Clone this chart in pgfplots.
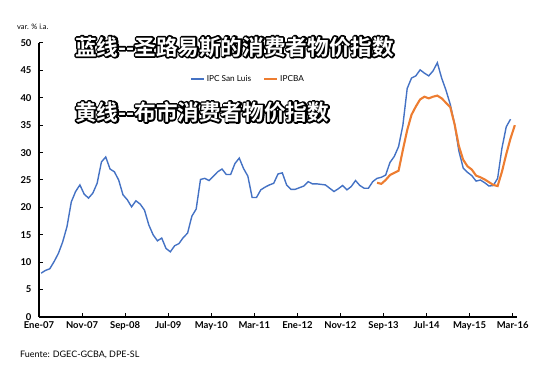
\documentclass[border=0pt]{standalone}
\usepackage{fontspec}
\setmainfont{Lato}
\newfontfamily\cjk{Noto Sans CJK SC}[BoldFont={Noto Sans CJK SC Bold}]
\usepackage{pgfplots}
\pgfplotsset{compat=1.18}
\usepackage{pgfplotstable}
\definecolor{ipcblue}{RGB}{68,114,196}
\definecolor{ipcorange}{RGB}{237,125,49}
\newcommand\strokeonly[1]{\special{pdf:literal direct 1 Tr 3.4 w 0 0 0 RG 1 j 1 J}#1\special{pdf:literal direct 0 Tr}}

\pgfplotstableread{
m v
0 8.0
1 8.5
2 8.8
3 10.1
4 11.6
5 13.7
6 16.5
7 21.0
8 22.9
9 24.1
10 22.4
11 21.7
12 22.6
13 24.4
14 28.3
15 29.2
16 27.0
17 26.5
18 25.0
19 22.3
20 21.4
21 20.1
22 21.2
23 20.6
24 19.5
25 16.8
26 15.0
27 13.9
28 14.4
29 12.5
30 11.9
31 13.0
32 13.4
33 14.5
34 15.3
35 18.4
36 19.7
37 25.1
38 25.3
39 24.9
40 25.7
41 26.5
42 27.0
43 26.0
44 26.0
45 28.0
46 29.0
47 27.1
48 25.7
49 21.8
50 21.8
51 23.2
52 23.7
53 24.1
54 24.4
55 26.1
56 26.3
57 24.1
58 23.3
59 23.3
60 23.6
61 23.9
62 24.7
63 24.3
64 24.3
65 24.2
66 24.1
67 23.5
68 22.9
69 23.4
70 24.0
71 23.2
72 23.8
73 24.9
74 24.0
75 23.5
76 23.5
77 24.7
78 25.3
79 25.5
80 25.9
81 28.2
82 29.3
83 31.1
84 35.0
85 41.7
86 43.6
87 44.0
88 45.1
89 44.5
90 44.0
91 44.9
92 46.4
93 43.6
94 41.4
95 38.8
96 35.2
97 30.3
98 27.2
99 26.4
100 25.8
101 24.8
102 25.0
103 24.5
104 23.9
105 24.0
106 25.3
107 30.8
108 34.7
109 36.1
}\bluedata

\pgfplotstableread{
m v
78 24.5
79 24.3
80 25.0
81 25.9
82 26.3
83 26.7
84 30.5
85 34.1
86 36.9
87 38.4
88 39.7
89 40.2
90 39.9
91 40.2
92 40.4
93 39.9
94 39.1
95 38.3
96 35.2
97 31.2
98 28.7
99 27.5
100 26.9
101 25.8
102 25.5
103 25.1
104 24.6
105 24.1
106 23.9
107 26.5
108 29.7
109 32.6
110 35.0
}\orangedata

\begin{document}
\begin{tikzpicture}
\begin{axis}[
  at={(0,0)}, anchor=south west,
  scale only axis, width=478bp, height=274bp,
  xmin=0, xmax=111, ymin=0, ymax=50,
  axis x line*=bottom, axis y line*=left,
  axis line style={-, line width=1.1bp, black},
  xtick={0,10,...,110},
  xticklabels={Ene-07,Nov-07,Sep-08,Jul-09,May-10,Mar-11,Ene-12,Nov-12,Sep-13,Jul-14,May-15,Mar-16},
  ytick={0,5,...,50},
  tick align=inside, major tick length=4bp,
  tick style={black, line width=1bp},
  tick label style={font=\bfseries\fontsize{9.5}{11}\selectfont},
  /pgf/number format/assume math mode=true,
  yticklabel style={xshift=-4bp},
  xticklabel style={yshift=-1bp},
  legend style={at={(0.31,0.869)}, anchor=west, draw=none, fill=none,
    legend columns=2, font=\fontsize{8.3}{10}\selectfont,
    /tikz/every even column/.append style={column sep=10bp}},
  legend image code/.code={\draw[#1] (0bp,0bp) -- (13bp,0bp);},
]
\addplot[ipcblue, line width=1.4bp] table[x expr=\thisrow{m}+0.5, y=v] {\bluedata};
\addplot[ipcorange, line width=2.1bp] table[x expr=\thisrow{m}+0.5, y=v] {\orangedata};
\legend{IPC San Luis, IPCBA}
\end{axis}
\node[anchor=west, inner sep=0pt, font=\fontsize{7.5}{9}\selectfont] at (-22bp,290bp) {var. \% i.a.};
\node[anchor=west, inner sep=0pt, font=\fontsize{9}{11}\selectfont] at (-19bp,-38bp) {Fuente: DGEC-GCBA, DPE-SL};
\node[anchor=west, inner sep=0pt, font=\cjk\bfseries\fontsize{21.7}{26}\selectfont] at (36bp,270bp) {\strokeonly{蓝线-{}-圣路易斯的消费者物价指数}};
\node[anchor=west, inner sep=0pt, text=white, font=\cjk\bfseries\fontsize{21.7}{26}\selectfont] at (36bp,270bp) {蓝线-{}-圣路易斯的消费者物价指数};
\node[anchor=west, inner sep=0pt, font=\cjk\bfseries\fontsize{21.7}{26}\selectfont] at (36bp,205bp) {\strokeonly{黄线-{}-布市消费者物价指数}};
\node[anchor=west, inner sep=0pt, text=white, font=\cjk\bfseries\fontsize{21.7}{26}\selectfont] at (36bp,205bp) {黄线-{}-布市消费者物价指数};
\path[use as bounding box] (-39bp,-53bp) rectangle (513bp,317bp);
\end{tikzpicture}
\end{document}
